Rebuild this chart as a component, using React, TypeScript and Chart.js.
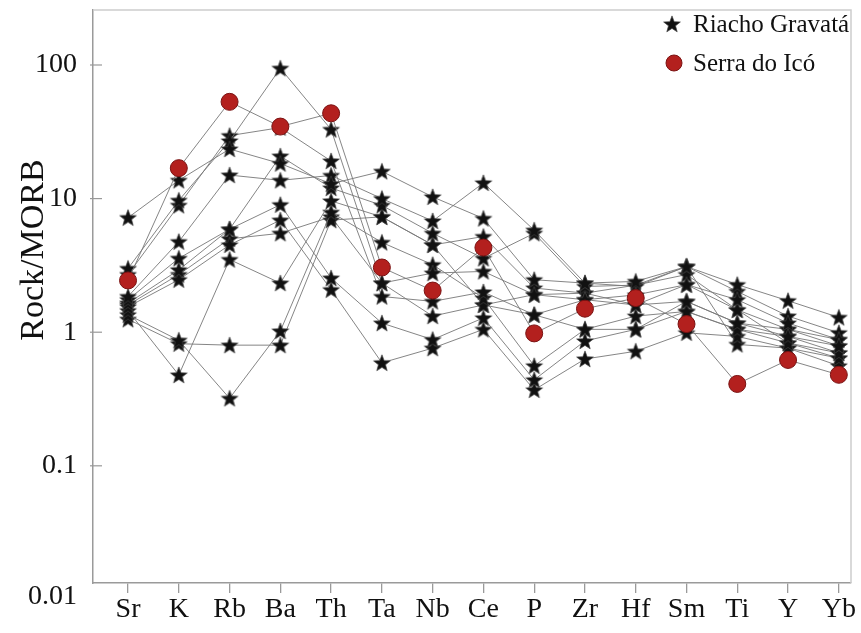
import { useEffect, useRef } from 'react';
import { Chart, registerables } from 'chart.js';

Chart.register(...registerables);

const elements = ['Sr', 'K', 'Rb', 'Ba', 'Th', 'Ta', 'Nb', 'Ce', 'P', 'Zr', 'Hf', 'Sm', 'Ti', 'Y', 'Yb'];
const yTickValues = [0.01, 0.1, 1, 10, 100];
const yTickLabels = ['0.01', '0.1', '1', '10', '100'];
const yTitle = 'Rock/MORB';
const legendLabels = ['Riacho Gravatá', 'Serra do Icó'];

const serraDoIco = [2.44, 16.9, 53, 34.6, 43.5, 3.05, 2.05, 4.3, 0.98, 1.5, 1.8, 1.15, 0.41, 0.62, 0.48];

const riacho1 = [7.2, 13.7, 23.5, 18.3, 12.9, 16, 10.3, 7.1, 2.47, 2.33, 2.4, 3.1, 2.27, 1.72, 1.29];
const riacho2 = [3.0, 9.7, 27, 94.5, 32.9, 2.33, 2.77, 2.85, 1.91, 1.75, 1.6, 1.7, 1.17, 0.93, 0.79];
const riacho3 = [2.7, 8.9, 29.6, 34, 19.1, 1.85, 1.7, 2.0, 1.35, 1.75, 1.9, 2.27, 1.75, 1.17, 0.88];
const riacho4 = [1.85, 4.76, 15, 13.7, 14.9, 10, 6.8, 13.1, 5.8, 2.33, 2.2, 3.1, 2.02, 1.32, 0.99];
const riacho5 = [1.75, 3.57, 5.9, 20.8, 12.0, 8.9, 5.5, 3.57, 5.5, 2.2, 2.25, 2.7, 1.47, 1.05, 0.79];
const riacho6 = [1.65, 2.93, 5.9, 9.0, 2.54, 1.17, 0.88, 1.28, 0.44, 0.86, 1.05, 1.43, 1.05, 0.83, 0.7];
const riacho7 = [1.55, 2.47, 4.5, 6.9, 2.08, 0.59, 0.76, 1.05, 0.37, 0.63, 0.72, 0.99, 0.93, 0.76, 0.64];
const riacho8 = [1.45, 0.478, 3.5, 2.33, 9.6, 7.3, 4.5, 5.2, 2.14, 1.96, 2.25, 3.1, 0.81, 0.76, 0.56];
const riacho9 = [1.35, 0.87, 0.32, 1.02, 7.9, 4.7, 3.2, 1.8, 0.56, 1.05, 1.32, 1.43, 1.05, 0.93, 0.7];
const riacho10 = [1.25, 0.82, 0.8, 0.8, 6.9, 7.3, 4.5, 1.6, 1.35, 1.05, 1.05, 1.7, 1.17, 1.05, 0.88];
const riacho11 = [1.6, 2.7, 5.0, 5.5, 7.3, 2.33, 1.32, 1.6, 1.91, 1.96, 1.6, 2.27, 1.47, 0.83, 0.64];

const riachoSeries = [riacho1, riacho2, riacho3, riacho4, riacho5, riacho6, riacho7, riacho8, riacho9, riacho10, riacho11];

const Y_MIN = 0.01327;
const Y_MAX = 258;
const SERIF = '"Liberation Serif", "Times New Roman", serif';

function makeStar(size: number, outer: number, inner: number): HTMLCanvasElement {
  const c = document.createElement('canvas');
  c.width = size;
  c.height = size;
  const ctx = c.getContext('2d')!;
  const cx = size / 2;
  const cy = size / 2 + outer * 0.08;
  ctx.beginPath();
  for (let i = 0; i < 10; i++) {
    const r = i % 2 === 0 ? outer : inner;
    const a = -Math.PI / 2 + (i * Math.PI) / 5;
    ctx.lineTo(cx + r * Math.cos(a), cy + r * Math.sin(a));
  }
  ctx.closePath();
  ctx.fillStyle = '#111111';
  ctx.fill();
  ctx.strokeStyle = '#444444';
  ctx.lineWidth = 0.7;
  ctx.stroke();
  return c;
}

export default function App() {
  const canvasRef = useRef<HTMLCanvasElement | null>(null);

  useEffect(() => {
    if (!canvasRef.current) return;
    const star = makeStar(20, 8.8, 3.7);
    const toPoints = (arr: number[]) => arr.map((v, i) => ({ x: i, y: v }));

    const decorPlugin = {
      id: 'decor',
      afterDraw(chart: any) {
        const { ctx, chartArea: a, scales } = chart;
        ctx.save();
        // top & right frame
        ctx.strokeStyle = '#cdcdcd';
        ctx.lineWidth = 1.5;
        ctx.beginPath();
        ctx.moveTo(a.left, a.top);
        ctx.lineTo(a.right, a.top);
        ctx.lineTo(a.right, a.bottom);
        ctx.stroke();
        // inward y tick marks
        ctx.strokeStyle = '#999999';
        ctx.lineWidth = 1.2;
        yTickValues.slice(1).forEach((v) => {
          const y = scales.y.getPixelForValue(v);
          ctx.beginPath();
          ctx.moveTo(a.left - 3, y);
          ctx.lineTo(a.left + 9, y);
          ctx.stroke();
        });
        // y title
        ctx.save();
        ctx.fillStyle = '#111111';
        ctx.font = `34px ${SERIF}`;
        ctx.translate(43, 250);
        ctx.rotate(-Math.PI / 2);
        ctx.textAlign = 'center';
        ctx.textBaseline = 'alphabetic';
        ctx.fillText(yTitle, 0, 0);
        ctx.restore();
        // legend
        ctx.drawImage(star, 672 - 10, 24 - 10, 20, 20);
        ctx.beginPath();
        ctx.arc(674, 63, 8, 0, Math.PI * 2);
        ctx.fillStyle = '#b3201e';
        ctx.fill();
        ctx.strokeStyle = '#7a1212';
        ctx.lineWidth = 1;
        ctx.stroke();
        ctx.fillStyle = '#111111';
        ctx.font = `25px ${SERIF}`;
        ctx.textAlign = 'left';
        ctx.textBaseline = 'middle';
        ctx.fillText(legendLabels[0], 693, 25);
        ctx.fillText(legendLabels[1], 693, 64);
        ctx.restore();
      },
    };

    const datasets: any[] = [
      {
        label: legendLabels[1],
        data: toPoints(serraDoIco),
        borderColor: 'rgba(120,120,120,0.9)',
        borderWidth: 1,
        pointStyle: 'circle',
        pointRadius: 8.5,
        pointBackgroundColor: '#b3201e',
        pointBorderColor: '#7a1212',
        pointBorderWidth: 1,
        order: 0,
      },
      ...riachoSeries.map((s) => ({
        label: legendLabels[0],
        data: toPoints(s),
        borderColor: 'rgba(120,120,120,0.9)',
        borderWidth: 1,
        pointStyle: star,
        pointRadius: 9,
        order: 1,
      })),
    ];

    const chart = new Chart(canvasRef.current, {
      type: 'line',
      data: { datasets },
      plugins: [decorPlugin],
      options: {
        animation: false,
        responsive: true,
        maintainAspectRatio: false,
        layout: { padding: { top: 7, right: 6, left: 0, bottom: 0 } },
        plugins: { legend: { display: false }, tooltip: { enabled: false } },
        elements: { line: { tension: 0 } },
        scales: {
          x: {
            type: 'linear',
            min: -0.69,
            max: 14.24,
            afterBuildTicks: (scale: any) => {
              scale.ticks = elements.map((_, i) => ({ value: i }));
            },
            afterFit: (scale: any) => {
              scale.height = 50;
              scale.paddingLeft = 0;
              scale.paddingRight = 0;
            },
            ticks: {
              autoSkip: false,
              maxRotation: 0,
              padding: 0,
              color: '#111111',
              font: { family: SERIF, size: 28 },
              callback: (v: any) => elements[Math.round(Number(v))],
            },
            grid: { drawOnChartArea: false, drawTicks: true, tickLength: 10, color: '#9a9a9a', lineWidth: 1.3 },
            border: { display: true, color: '#9a9a9a', width: 1.5 },
          },
          y: {
            type: 'logarithmic',
            min: Y_MIN,
            max: Y_MAX,
            afterBuildTicks: (scale: any) => {
              scale.ticks = yTickValues.map((v, i) => ({ value: i === 0 ? Y_MIN : v }));
            },
            afterFit: (scale: any) => {
              scale.width = 93;
              scale.paddingTop = 0;
              scale.paddingBottom = 0;
            },
            ticks: {
              autoSkip: false,
              padding: 16,
              color: '#111111',
              font: { family: SERIF, size: 28, lineHeight: 1.0 },
              callback: (_v: any, i: number) => (i === 0 ? ['', yTickLabels[0]] : yTickLabels[i]),
            },
            grid: { display: false, drawTicks: false },
            border: { display: true, color: '#9a9a9a', width: 1.5 },
          },
        },
      } as any,
    });

    return () => chart.destroy();
  }, []);

  return (
    <div style={{ position: 'fixed', left: 0, top: 0, width: 861, height: 633, background: '#ffffff' }}>
      <canvas ref={canvasRef} />
    </div>
  );
}
